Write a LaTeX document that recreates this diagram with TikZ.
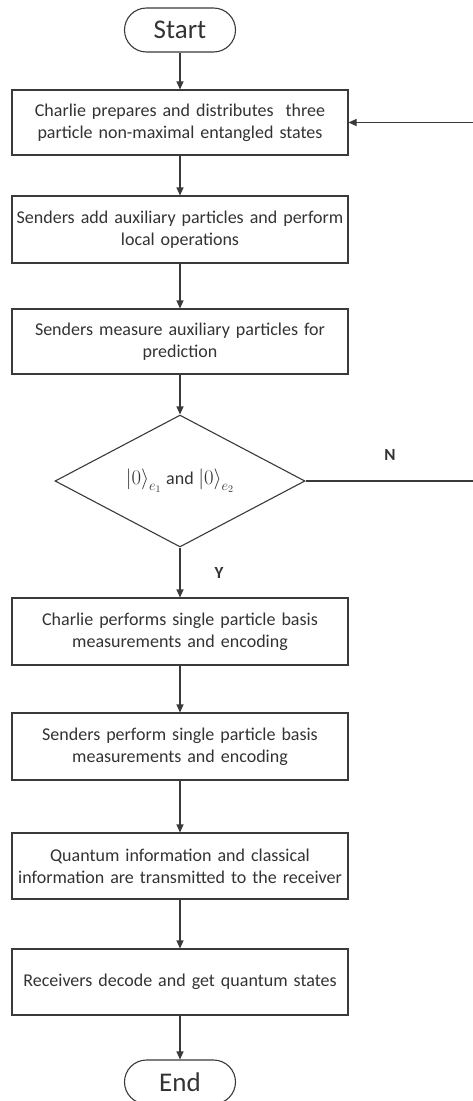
\documentclass[tikz,border=0pt]{standalone}
\usepackage{fontspec}
\setmainfont{Carlito}
\usetikzlibrary{shapes.geometric,arrows.meta}
\definecolor{ln}{HTML}{3A3A3A}
\definecolor{tx}{HTML}{333333}
\tikzset{
  stepbox/.style={draw=ln, line width=1.1pt, minimum width=336pt, text width=334pt, align=center, inner sep=0pt, font=\fontsize{18}{22}\selectfont, text=tx},
  term/.style={draw=ln, line width=1.1pt, rounded corners=22pt, minimum width=111pt, minimum height=44pt, inner sep=0pt, font=\fontsize{27}{30}\selectfont, text=tx},
  decis/.style={draw=ln, line width=1.1pt, diamond, minimum width=250pt, minimum height=126pt, inner sep=0pt, font=\fontsize{20}{24}\selectfont, text=tx},
  arr/.style={draw=ln, line width=1.1pt, -{Triangle[length=8pt,width=7pt]}},
  lbl/.style={font=\bfseries\fontsize{17}{20}\selectfont, text=tx}
}
\begin{document}
\begin{tikzpicture}[x=1pt,y=-1pt]
\useasboundingbox[fill=white] (0,0) rectangle (472,1101);
\node[term] (start) at (180,30) {Start};
\node[stepbox, minimum height=65pt] (b1) at (180,122.5) {Charlie prepares and distributes\ \ three\\particle non-maximal entangled states};
\node[stepbox, minimum height=67pt] (b2) at (180,229.5) {Senders add auxiliary particles and perform\\local operations};
\node[stepbox, minimum height=65pt] (b3) at (180,341.5) {Senders measure auxiliary particles for\\prediction};
\node[decis] (dec) at (180,481) {$\left|0\right\rangle_{e_1}$ {\fontsize{18}{22}\selectfont and} $\left|0\right\rangle_{e_2}$};
\node[stepbox, minimum height=67pt] (b4) at (180,631.5) {Charlie performs single particle basis\\measurements and encoding};
\node[stepbox, minimum height=67pt] (b5) at (180,746.5) {Senders perform single particle basis\\measurements and encoding};
\node[stepbox, minimum height=66pt] (b6) at (180,866) {Quantum information and classical\\information are transmitted to the receiver};
\node[stepbox, minimum height=66pt] (b7) at (180,982) {Receivers decode and get quantum states};
\node[term] (end) at (180,1082) {End};
\coordinate (c1) at (473.5,481);
\coordinate (c2) at (473.5,122.5);
\node[lbl] (nlab) at (390,455) {N};
\node[lbl] (ylab) at (219,573) {Y};
\draw[arr] (start) -- (b1);
\draw[arr] (b1) -- (b2);
\draw[arr] (b2) -- (b3);
\draw[arr] (b3) -- (dec);
\draw[arr] (dec) -- (b4);
\draw[arr] (b4) -- (b5);
\draw[arr] (b5) -- (b6);
\draw[arr] (b6) -- (b7);
\draw[arr] (b7) -- (end);
\draw[arr] (dec.east) -- (c1) -- (c2) -- (b1.east);
\end{tikzpicture}
\end{document}
